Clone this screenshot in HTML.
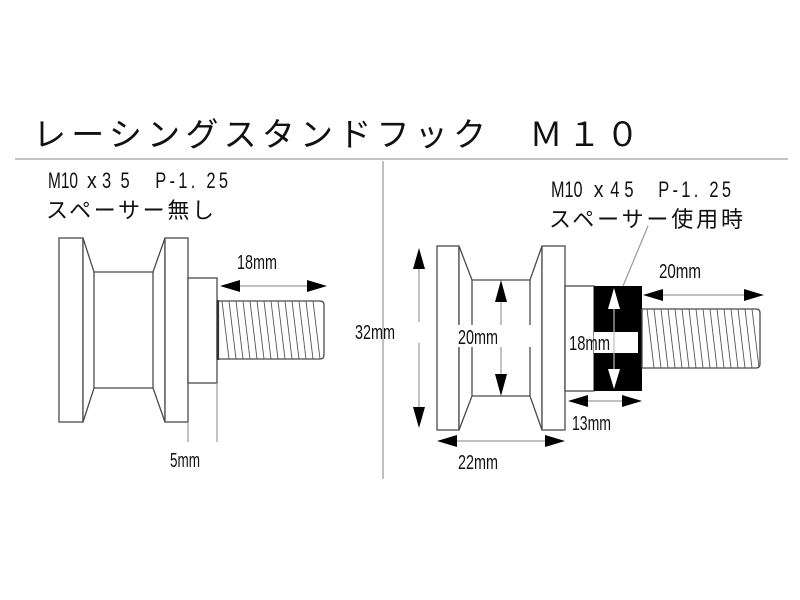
<!DOCTYPE html>
<html>
<head>
<meta charset="utf-8">
<style>
  html,body{margin:0;padding:0;background:#fff;}
  svg{display:block;}
  .o{fill:#fff;stroke:#4a4a4a;stroke-width:1.3;}
  .l{stroke:#4a4a4a;stroke-width:1.3;fill:none;}
  .d{stroke:#9a9a9a;stroke-width:1.2;fill:none;}
  .h{stroke:#555;stroke-width:0.9;}
  .t{font-family:"Liberation Sans","Noto Sans CJK JP",sans-serif;fill:#111;}
  .j{font-family:"Noto Sans CJK JP","Liberation Sans",sans-serif;fill:#111;}
</style>
</head>
<body>
<svg width="800" height="600" viewBox="0 0 800 600" xmlns="http://www.w3.org/2000/svg">
  <rect width="800" height="600" fill="#fff"/>
  <defs>
    <clipPath id="c1"><path d="M217,301 H320 Q324,301 324,305 V355 Q324,359 320,359 H217 Z"/></clipPath>
    <clipPath id="c2"><path d="M642,309 H756 Q760,309 760,313 V364 Q760,368 756,368 H642 Z"/></clipPath>
  </defs>

  <!-- Title -->
  <text class="j" x="33" y="146" font-size="33" textLength="606" lengthAdjust="spacing">レーシングスタンドフック　Ｍ１０</text>
  <line x1="15" y1="159" x2="788" y2="159" stroke="#b0b0b0" stroke-width="1.6"/>
  <line x1="383" y1="161" x2="383" y2="479" stroke="#b0b0b0" stroke-width="1.6"/>

  <!-- Left texts -->
  <g class="t" font-size="22" transform="translate(48,188) scale(0.75,1)">
    <text x="0" y="0" textLength="40" lengthAdjust="spacingAndGlyphs">M10</text>
    <text x="52" y="0" textLength="13" lengthAdjust="spacingAndGlyphs">x</text>
    <text x="72" y="0" textLength="37" lengthAdjust="spacing">35</text>
    <text x="143" y="0" textLength="97" lengthAdjust="spacing">P-1. 25</text>
  </g>
  <text class="j" x="46" y="218" font-size="22" textLength="168" lengthAdjust="spacing">スペーサー無し</text>

  <!-- Right texts -->
  <g class="t" font-size="22" transform="translate(551,197) scale(0.75,1)">
    <text x="0" y="0" textLength="42" lengthAdjust="spacingAndGlyphs">M10</text>
    <text x="57" y="0" textLength="13" lengthAdjust="spacingAndGlyphs">x</text>
    <text x="79" y="0" textLength="31" lengthAdjust="spacing">45</text>
    <text x="143" y="0" textLength="97" lengthAdjust="spacing">P-1. 25</text>
  </g>
  <text class="j" x="549" y="227" font-size="22" textLength="194" lengthAdjust="spacing">スペーサー使用時</text>

  <!-- ===== LEFT SPOOL ===== -->
  <rect class="o" x="59" y="238" width="24" height="184"/>
  <path class="o" d="M83,238 L94,272 L153,272 L165,238 L165,422 L153,388 L94,388 L83,422 Z"/>
  <line class="l" x1="94" y1="272" x2="94" y2="388"/>
  <line class="l" x1="153" y1="272" x2="153" y2="388"/>
  <rect class="o" x="165" y="238" width="23" height="184"/>
  <rect class="o" x="188" y="278" width="29" height="105"/>
  <!-- thread -->
  <path class="o" d="M217,301 H320 Q324,301 324,305 V355 Q324,359 320,359 H217 Z"/>
  <g clip-path="url(#c1)" class="h">
    <line x1="222" y1="301" x2="229" y2="359"/>
    <line x1="229" y1="301" x2="236" y2="359"/>
    <line x1="236" y1="301" x2="243" y2="359"/>
    <line x1="243" y1="301" x2="250" y2="359"/>
    <line x1="250" y1="301" x2="257" y2="359"/>
    <line x1="257" y1="301" x2="264" y2="359"/>
    <line x1="264" y1="301" x2="271" y2="359"/>
    <line x1="271" y1="301" x2="278" y2="359"/>
    <line x1="278" y1="301" x2="285" y2="359"/>
    <line x1="285" y1="301" x2="292" y2="359"/>
    <line x1="292" y1="301" x2="299" y2="359"/>
    <line x1="299" y1="301" x2="306" y2="359"/>
    <line x1="306" y1="301" x2="313" y2="359"/>
    <line x1="313" y1="301" x2="320" y2="359"/>
  </g>
  <line x1="218" y1="300" x2="218" y2="360" stroke="#333" stroke-width="2.2"/>

  <!-- 18mm left dimension -->
  <line class="d" x1="235" y1="286" x2="312" y2="286"/>
  <polygon points="220,286 240,280 240,292" fill="#000"/>
  <polygon points="327,286 307,280 307,292" fill="#000"/>
  <text class="t" x="237" y="269" font-size="20" textLength="40" lengthAdjust="spacingAndGlyphs">18mm</text>

  <!-- 5mm extension -->
  <line class="d" x1="188" y1="422" x2="188" y2="442"/>
  <line class="d" x1="217" y1="383" x2="217" y2="442"/>
  <text class="t" x="170" y="467" font-size="20" textLength="30" lengthAdjust="spacingAndGlyphs">5mm</text>

  <!-- ===== RIGHT SPOOL ===== -->
  <rect class="o" x="437" y="246" width="22" height="184"/>
  <path class="o" d="M459,246 L472,280 L530,280 L542,246 L542,430 L530,396 L472,396 L459,430 Z"/>
  <line class="l" x1="472" y1="280" x2="472" y2="396"/>
  <line class="l" x1="530" y1="280" x2="530" y2="396"/>
  <rect class="o" x="542" y="246" width="23" height="184"/>
  <rect class="o" x="565" y="286" width="29" height="105"/>
  <!-- black spacer -->
  <rect x="594" y="286" width="48" height="105" fill="#000"/>
  <rect x="594" y="332" width="44" height="21" fill="#fff"/>
  <!-- thread -->
  <path class="o" d="M642,309 H756 Q760,309 760,313 V364 Q760,368 756,368 H642 Z"/>
  <g clip-path="url(#c2)" class="h">
    <line x1="647" y1="309" x2="654" y2="368"/>
    <line x1="654" y1="309" x2="661" y2="368"/>
    <line x1="661" y1="309" x2="668" y2="368"/>
    <line x1="668" y1="309" x2="675" y2="368"/>
    <line x1="675" y1="309" x2="682" y2="368"/>
    <line x1="682" y1="309" x2="689" y2="368"/>
    <line x1="689" y1="309" x2="696" y2="368"/>
    <line x1="696" y1="309" x2="703" y2="368"/>
    <line x1="703" y1="309" x2="710" y2="368"/>
    <line x1="710" y1="309" x2="717" y2="368"/>
    <line x1="717" y1="309" x2="724" y2="368"/>
    <line x1="724" y1="309" x2="731" y2="368"/>
    <line x1="731" y1="309" x2="738" y2="368"/>
    <line x1="738" y1="309" x2="745" y2="368"/>
    <line x1="745" y1="309" x2="752" y2="368"/>
    <line x1="752" y1="309" x2="759" y2="368"/>
  </g>

  <!-- white arrow in spacer -->
  <line x1="614" y1="305" x2="614" y2="372" stroke="#bbb" stroke-width="1.2"/>
  <polygon points="614,288 608,309 620,309" fill="#fff"/>
  <polygon points="614,389 608,369 620,369" fill="#fff"/>
  <text class="t" x="569" y="350" font-size="20" textLength="41" lengthAdjust="spacingAndGlyphs">18mm</text>

  <!-- leader -->
  <line class="d" x1="648" y1="226" x2="623" y2="286"/>

  <!-- 32mm -->
  <line class="d" x1="419" y1="262" x2="419" y2="322"/>
  <line class="d" x1="419" y1="343" x2="419" y2="414"/>
  <polygon points="419,248 413,269 425,269" fill="#000"/>
  <polygon points="419,428 413,407 425,407" fill="#000"/>
  <text class="t" x="355" y="339" font-size="20" textLength="40" lengthAdjust="spacingAndGlyphs">32mm</text>

  <!-- gap band through body -->
  <rect x="455" y="325" width="78" height="22" fill="#fff"/>

  <!-- 20mm middle -->
  <line class="d" x1="501" y1="300" x2="501" y2="325"/>
  <line class="d" x1="501" y1="347" x2="501" y2="376"/>
  <polygon points="501,280 495,302 507,302" fill="#000"/>
  <polygon points="501,396 495,374 507,374" fill="#000"/>
  <text class="t" x="458" y="344" font-size="20" textLength="40" lengthAdjust="spacingAndGlyphs">20mm</text>

  <!-- 22mm -->
  <line class="d" x1="450" y1="441" x2="552" y2="441"/>
  <polygon points="437,441 457,435 457,447" fill="#000"/>
  <polygon points="565,441 545,435 545,447" fill="#000"/>
  <text class="t" x="458" y="469" font-size="20" textLength="40" lengthAdjust="spacingAndGlyphs">22mm</text>

  <!-- 20mm right -->
  <line class="d" x1="658" y1="295" x2="750" y2="295"/>
  <polygon points="643,295 663,289 663,301" fill="#000"/>
  <polygon points="764,295 744,289 744,301" fill="#000"/>
  <text class="t" x="659" y="278" font-size="20" textLength="42" lengthAdjust="spacingAndGlyphs">20mm</text>

  <!-- 13mm -->
  <line class="d" x1="580" y1="401" x2="630" y2="401"/>
  <polygon points="568,401 588,395 588,407" fill="#000"/>
  <polygon points="642,401 622,395 622,407" fill="#000"/>
  <text class="t" x="572" y="430" font-size="20" textLength="39" lengthAdjust="spacingAndGlyphs">13mm</text>
</svg>
</body>
</html>
